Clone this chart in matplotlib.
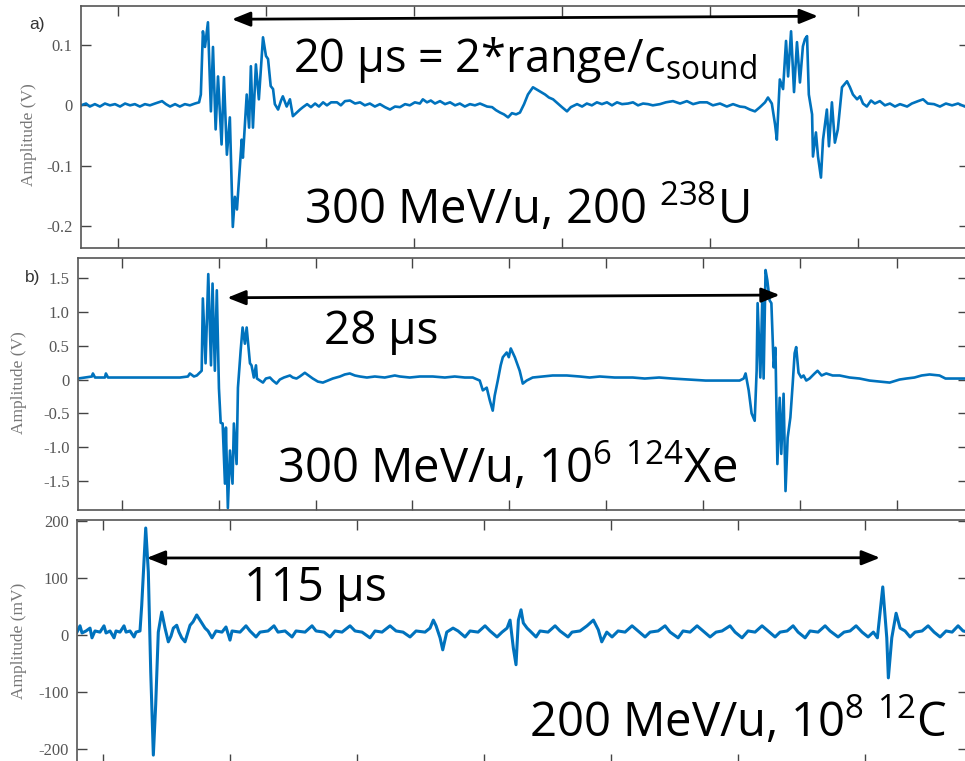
import matplotlib
matplotlib.use("Agg")
import matplotlib.pyplot as plt

plt.rcParams['mathtext.fontset'] = 'custom'
plt.rcParams['mathtext.rm'] = 'Open Sans'
plt.rcParams['mathtext.it'] = 'Open Sans:italic'
plt.rcParams['mathtext.bf'] = 'Open Sans:bold'

# ---- panel a: 300 MeV/u, 200 U-238 (time in us, amplitude in V)
t_a = [0.00, 0.17, 0.30, 0.47, 0.64, 0.81, 0.98, 1.15, 1.32, 1.49,
       1.66, 1.82, 1.99, 2.16, 2.33, 2.50, 2.74, 2.87, 3.01, 3.18,
       3.34, 3.51, 3.68, 3.85, 3.99, 4.05, 4.12, 4.19, 4.29, 4.39,
       4.46, 4.55, 4.63, 4.75, 4.83, 4.93, 5.03, 5.13, 5.20, 5.27,
       5.43, 5.47, 5.60, 5.68, 5.74, 5.81, 5.91, 6.01, 6.15, 6.25,
       6.32, 6.41, 6.49, 6.55, 6.66, 6.76, 6.82, 6.95, 7.06, 7.16,
       7.29, 7.40, 7.50, 7.64, 7.77, 7.91, 8.04, 8.18, 8.31, 8.45,
       8.65, 8.78, 8.92, 9.09, 9.26, 9.43, 9.59, 9.76, 9.93, 10.10,
       10.27, 10.44, 10.61, 10.78, 10.95, 11.11, 11.28, 11.45, 11.55, 11.69,
       11.82, 11.96, 12.13, 12.30, 12.47, 12.64, 12.80, 12.97, 13.14, 13.31,
       13.48, 13.72, 13.89, 14.02, 14.16, 14.29, 14.43, 14.56, 14.70, 14.83,
       14.97, 15.10, 15.27, 15.37, 15.51, 15.68, 15.81, 15.95, 16.11, 16.25,
       16.42, 16.55, 16.76, 16.93, 17.09, 17.26, 17.43, 17.60, 17.77, 17.94,
       18.11, 18.28, 18.48, 18.65, 18.82, 18.99, 19.16, 19.32, 19.56, 19.76,
       20.00, 20.24, 20.47, 20.68, 20.91, 21.15, 21.35, 21.59, 21.82, 22.03,
       22.26, 22.43, 22.60, 22.77, 22.94, 23.11, 23.21, 23.34, 23.45, 23.51,
       23.61, 23.72, 23.82, 23.89, 23.99, 24.09, 24.19, 24.29, 24.39, 24.46,
       24.53, 24.59, 24.70, 24.73, 24.83, 24.90, 25.00, 25.07, 25.20, 25.27,
       25.37, 25.47, 25.57, 25.71, 25.88, 25.98, 26.08, 26.22, 26.32, 26.42,
       26.55, 26.69, 26.82, 26.99, 27.16, 27.33, 27.50, 27.67, 27.91, 28.07,
       28.28, 28.45, 28.61, 28.82, 29.02, 29.22, 29.43, 29.63, 29.86, 30.00]
v_a = [0.000, 0.003, -0.002, 0.002, -0.002, 0.003, 0.000, 0.002, -0.002, 0.003,
       0.000, 0.002, -0.002, 0.002, 0.000, 0.003, 0.007, 0.002, -0.002, 0.002,
       -0.002, 0.002, 0.000, 0.003, 0.005, 0.018, 0.123, 0.097, 0.138, -0.010,
       0.097, -0.040, 0.048, -0.065, 0.047, -0.082, -0.020, -0.202, -0.152, -0.173,
       -0.057, -0.087, 0.018, -0.037, 0.065, -0.037, 0.068, 0.010, 0.113, 0.082,
       0.077, 0.032, 0.027, 0.002, -0.007, 0.008, 0.015, -0.002, 0.010, -0.018,
       -0.012, -0.007, -0.003, 0.002, -0.003, 0.003, -0.002, 0.005, 0.000, 0.005,
       0.005, 0.000, 0.007, 0.008, 0.003, 0.005, 0.000, 0.003, -0.002, 0.002,
       -0.003, -0.007, -0.002, -0.003, 0.002, 0.000, 0.005, 0.003, 0.010, 0.005,
       0.008, 0.003, 0.007, 0.002, 0.005, 0.000, 0.003, -0.002, 0.002, 0.000,
       0.003, -0.002, -0.003, -0.008, -0.012, -0.015, -0.020, -0.013, -0.015, -0.012,
       0.002, 0.018, 0.030, 0.027, 0.023, 0.018, 0.013, 0.010, 0.003, -0.003,
       -0.010, -0.003, 0.002, -0.002, 0.003, 0.000, 0.005, 0.002, 0.005, 0.000,
       0.005, 0.002, 0.003, 0.005, 0.000, 0.003, 0.002, 0.000, 0.002, 0.005,
       0.007, 0.003, 0.007, 0.002, 0.005, 0.005, 0.000, 0.003, -0.002, 0.002,
       -0.002, -0.003, -0.007, -0.010, -0.003, 0.005, 0.013, 0.003, -0.032, -0.057,
       0.043, 0.027, 0.107, 0.048, 0.123, 0.022, 0.105, 0.038, 0.098, 0.110,
       0.115, 0.018, -0.015, -0.085, -0.045, -0.085, -0.120, -0.057, -0.007, -0.068,
       0.005, -0.062, -0.040, 0.030, 0.040, 0.030, 0.018, 0.010, 0.015, 0.003,
       -0.002, 0.008, 0.003, 0.007, 0.000, 0.003, -0.002, 0.002, -0.002, 0.003,
       0.007, 0.010, 0.003, 0.002, -0.002, 0.003, 0.000, 0.003, -0.002, 0.002]

# ---- panel b: 300 MeV/u, 10^6 Xe-124 (time in us, amplitude in V)
t_b = [0.00, 0.36, 0.72, 0.77, 0.88, 1.39, 1.44, 1.55, 2.16, 2.94,
       3.71, 4.48, 5.26, 5.67, 5.77, 5.98, 6.13, 6.38, 6.44, 6.58,
       6.72, 6.86, 6.94, 7.06, 7.16, 7.27, 7.36, 7.46, 7.58, 7.63,
       7.73, 7.84, 7.97, 8.04, 8.18, 8.25, 8.39, 8.49, 8.61, 8.70,
       8.87, 8.95, 9.07, 9.18, 9.23, 9.38, 9.54, 9.69, 9.90, 10.05,
       10.24, 10.41, 10.62, 10.93, 11.08, 11.27, 11.44, 11.70, 11.96, 12.11,
       12.37, 12.63, 12.89, 13.14, 13.51, 13.76, 14.02, 14.28, 14.54, 14.90,
       15.31, 15.82, 16.34, 16.60, 17.11, 17.63, 18.30, 18.92, 19.43, 19.95,
       20.36, 20.72, 20.88, 21.08, 21.24, 21.39, 21.49, 21.65, 21.80, 21.91,
       22.11, 22.22, 22.32, 22.53, 22.78, 22.94, 23.14, 23.45, 23.97, 24.48,
       25.21, 25.88, 26.39, 26.91, 27.68, 28.61, 29.23, 29.97, 30.64, 31.52,
       32.37, 33.09, 34.12, 34.33, 34.43, 34.59, 34.74, 34.90, 35.00, 35.05,
       35.19, 35.29, 35.36, 35.46, 35.55, 35.67, 35.76, 35.88, 35.97, 36.07,
       36.19, 36.27, 36.39, 36.49, 36.60, 36.74, 36.86, 36.96, 37.04, 37.16,
       37.30, 37.42, 37.56, 37.73, 37.99, 38.14, 38.35, 38.59, 38.92, 39.28,
       39.79, 40.31, 40.82, 41.34, 41.86, 42.37, 42.72, 43.14, 43.51, 43.92,
       44.43, 44.74, 45.10, 45.46, 45.88]
v_b = [0.015, 0.03, 0.045, 0.09, 0.03, 0.03, 0.09, 0.03, 0.03, 0.03,
       0.03, 0.03, 0.03, 0.045, 0.09, 0.045, 0.06, 0.13, 1.20, 0.24,
       1.56, 0.21, 1.42, 0.13, 1.32, -0.13, -0.64, -0.65, -1.54, -0.71,
       -1.90, -1.05, -1.54, -0.65, -1.25, -0.12, 0.43, 0.77, 0.53, 0.77,
       0.24, 0.21, 0.03, 0.21, 0.015, -0.015, -0.045, 0.015, 0.03, -0.015,
       -0.06, 0.00, 0.03, 0.06, 0.03, 0.015, 0.045, 0.10, 0.045, 0.015,
       -0.03, -0.045, -0.015, 0.015, 0.045, 0.075, 0.09, 0.06, 0.045, 0.03,
       0.045, 0.03, 0.06, 0.045, 0.03, 0.045, 0.045, 0.03, 0.045, 0.03,
       0.03, -0.015, -0.16, -0.12, -0.31, -0.46, -0.24, -0.015, 0.21, 0.33,
       0.40, 0.33, 0.46, 0.33, 0.13, -0.06, -0.015, 0.03, 0.045, 0.06,
       0.06, 0.045, 0.03, 0.045, 0.03, 0.03, 0.015, 0.03, 0.015, 0.00,
       -0.015, -0.015, -0.015, 0.015, 0.09, -0.16, -0.50, -0.61, 0.13, 1.13,
       0.03, 1.17, 0.015, 1.62, 1.47, 1.17, 1.13, 0.18, 0.47, -1.25,
       -0.27, -1.10, -0.21, -1.65, -0.86, -0.56, -0.06, 0.39, 0.48, 0.10,
       0.03, 0.06, -0.015, 0.015, 0.09, 0.13, 0.06, 0.09, 0.06, 0.06,
       0.03, 0.015, -0.015, -0.03, -0.045, 0.00, 0.015, 0.03, 0.06, 0.075,
       0.06, 0.015, 0.015, 0.015, 0.015]

# ---- panel c: 200 MeV/u, 10^8 C-12 (time in us, amplitude in mV)
t_c = [0.00, 0.47, 0.79, 1.42, 2.05, 2.36, 2.83, 3.62, 4.25, 4.57,
       5.20, 5.83, 6.14, 6.77, 7.40, 7.72, 8.35, 8.98, 9.29, 9.92,
       10.19, 10.82, 11.23, 11.61, 12.02, 12.39, 12.80, 13.34, 13.86, 14.38,
       14.80, 15.17, 15.70, 16.06, 16.49, 17.01, 17.48, 17.80, 18.27, 18.85,
       19.37, 20.16, 20.63, 21.26, 21.89, 22.83, 23.46, 24.09, 24.41, 25.67,
       26.61, 27.24, 28.19, 28.82, 30.08, 31.02, 31.65, 32.76, 33.86, 34.49,
       35.91, 37.01, 37.64, 38.90, 39.84, 40.63, 41.73, 42.99, 43.78, 44.88,
       46.14, 46.93, 48.03, 49.29, 50.24, 51.34, 52.44, 53.39, 54.80, 55.59,
       56.11, 56.54, 57.17, 57.59, 58.22, 59.21, 60.00, 61.10, 61.89, 63.15,
       64.25, 65.04, 66.14, 66.93, 67.72, 68.19, 68.71, 69.13, 69.50, 69.92,
       70.28, 70.87, 71.34, 72.28, 72.91, 74.17, 75.28, 76.06, 77.32, 77.95,
       79.21, 80.31, 81.31, 82.09, 82.63, 83.42, 84.25, 85.20, 86.30, 87.40,
       88.35, 89.45, 90.24, 91.50, 92.60, 93.39, 94.65, 95.43, 96.54, 97.64,
       98.58, 99.69, 100.63, 101.57, 102.83, 103.62, 104.72, 105.67, 106.77, 107.87,
       108.82, 109.92, 110.71, 111.81, 112.76, 113.54, 114.65, 115.43, 116.69, 117.80,
       118.58, 119.84, 120.79, 121.73, 122.68, 123.62, 124.57, 125.40, 126.03, 126.88,
       127.51, 127.76, 128.30, 128.98, 129.61, 130.39, 131.18, 131.97, 133.07, 134.02,
       134.96, 135.91, 136.85, 137.80, 138.74, 139.53, 140.31]
v_c = [5, 16, 3.5, 7, 12, -5, 7, 5, 16, 3.5,
       7, -5, 7, 5, 16, 5, 7, -3.5, 5, 7,
       52, 187, 110, -65, -210, -122, 5, 40, 12, -12,
       -2, 12, 17, 5, -5, -12, 5, 17, 23, 35,
       26, 12, 7, -5, 7, 5, 14, -9, 7, 5,
       16, 7, -3.5, 5, 7, 16, 5, 7, -3.5, 7,
       5, 16, 7, 5, -3.5, 7, 5, 16, 7, 5,
       -5, 7, 5, 16, 7, 5, -3.5, 7, 5, 12,
       26, 16, -5, -26, 5, 12, 7, -3.5, 7, 5,
       16, 7, -3.5, 5, 12, 26, -23, -52, 26, 44,
       21, 12, 7, -3.5, 7, 5, 16, 7, -3.5, 5,
       7, 16, 26, 9, -12, 5, -3.5, 7, 5, 16,
       7, -3.5, 5, 7, 16, 5, -5, 7, 5, 16,
       7, -3.5, 5, 7, 16, 5, -5, 7, 5, 16,
       7, -3.5, 5, 7, 16, 5, -5, 7, 5, 16,
       7, -3.5, 5, 7, 16, 5, -3.5, 5, -5, 84,
       -5, -75, -5, 38, 12, 7, -3.5, 5, 7, 16,
       5, -3.5, 7, 5, 16, 7, 5]

yticks_a = [0.1, 0, -0.1, -0.2]
ylabels_a = ['0.1', '0', '-0.1', '-0.2']
yticks_b = [1.5, 1.0, 0.5, 0, -0.5, -1.0, -1.5]
ylabels_b = ['1.5', '1.0', '0.5', '0', '-0.5', '-1.0', '-1.5']
yticks_c = [200, 100, 0, -100, -200]
ylabels_c = ['200', '100', '0', '-100', '-200']

BLUE = '#0072BD'
SERIF = 'Liberation Serif'
SANS = 'Open Sans'

fig = plt.figure(figsize=(9.65, 7.61), dpi=100)
ax_a = fig.add_axes([0.0839, 0.6741, 0.9202, 0.3180])
ax_b = fig.add_axes([0.0808, 0.3298, 0.9223, 0.3311])
ax_c = fig.add_axes([0.0798, -0.0039, 0.9233, 0.3206])


def style(ax, xlim, xt, ylim, yt, ylab, label, lab_xy):
    ax.set_xlim(xlim)
    ax.set_ylim(ylim)
    ax.set_xticks(xt)
    ax.set_yticks(yt)
    ax.set_yticklabels(ylab, family=SERIF)
    ax.tick_params(direction='in', top=True, right=True, length=7, width=1,
                   color='#444444', labelsize=12, labelcolor='#555555',
                   pad=6, labelbottom=False)
    for s in ax.spines.values():
        s.set_color('#555555')
        s.set_linewidth(1.2)
    ax.set_ylabel(label, family=SERIF, fontsize=12.5, color='#777777')
    ax.yaxis.set_label_coords(*lab_xy)


def span_arrow(ax, left, right):
    ax.annotate('', xy=left, xytext=right,
                arrowprops=dict(arrowstyle='<|-|>,head_length=0.55,head_width=0.22',
                                mutation_scale=20, lw=2, color='black',
                                shrinkA=0, shrinkB=0))


# panel a
ax_a.plot(t_a, v_a, color=BLUE, lw=1.9)
style(ax_a, (0, 30.0), [1.25 + 5 * k for k in range(6)], (-0.237, 0.165),
      yticks_a, ylabels_a, 'Amplitude (V)', (-0.0496, 0.467))
span_arrow(ax_a, (5.10, 0.143), (24.90, 0.148))
ax_a.text(15.0, 0.056, r'20 µs = 2*range/c$_{\mathrm{sound}}$', family=SANS,
          fontsize=32.5, ha='center', va='baseline')
ax_a.text(15.07, -0.197, r'300 MeV/u, 200 $^{\mathrm{238}}$U', family=SANS,
          fontsize=34, ha='center', va='baseline')

# panel b
ax_b.plot(t_b, v_b, color=BLUE, lw=1.9)
style(ax_b, (0, 45.9), [2.25 + 5 * k for k in range(9)], (-1.93, 1.797),
      yticks_b, ylabels_b, 'Amplitude (V)', (-0.0573, 0.504))
span_arrow(ax_b, (7.70, 1.21), (36.19, 1.25))
ax_b.text(15.62, 0.52, '28 µs', family=SANS, fontsize=33, ha='center', va='baseline')
ax_b.text(22.14, -1.53, r'300 MeV/u, 10$^{\mathrm{6}}$ $^{\mathrm{124}}$Xe', family=SANS,
          fontsize=34, ha='center', va='baseline')

# panel c
ax_c.plot(t_c, v_c, color=BLUE, lw=2.2)
style(ax_c, (0, 140.3), [4.1 + 20 * k for k in range(7)], (-225.5, 201),
      yticks_c, ylabels_c, 'Amplitude (mV)', (-0.0561, 0.504))
span_arrow(ax_c, (10.98, 134.6), (126.45, 135.0))
ax_c.text(37.6, 59.4, '115 µs', family=SANS, fontsize=33.5, ha='center', va='baseline')
ax_c.text(104.1, -178, r'200 MeV/u, 10$^{\mathrm{8}}$ $^{\mathrm{12}}$C', family=SANS,
          fontsize=34, ha='center', va='baseline')

fig.text(37 / 965, 1 - 24 / 761, 'a)', family='Liberation Sans', fontsize=12.5,
         color='#333333', ha='center', va='center')
fig.text(33 / 965, 1 - 277 / 761, 'b)', family='Liberation Sans', fontsize=12.5,
         color='#333333', ha='center', va='center')

fig.savefig('out.png', dpi=100)
